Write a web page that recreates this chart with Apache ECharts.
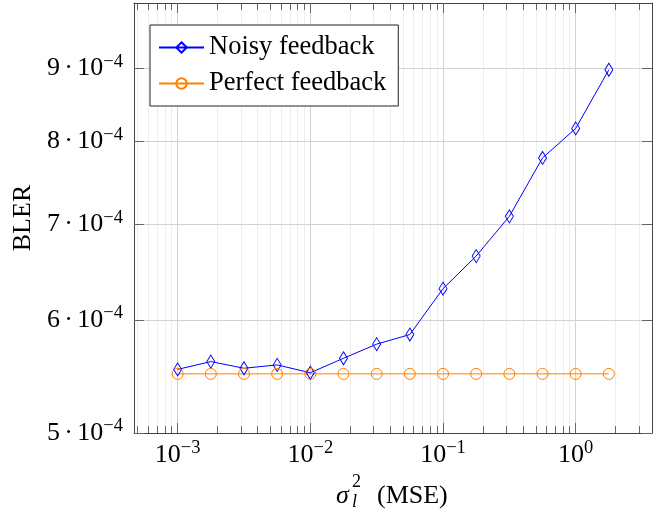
<!DOCTYPE html>
<html>
<head>
<meta charset="utf-8">
<script src="https://cdn.jsdelivr.net/npm/echarts@6/dist/echarts.min.js"></script>
<style>html,body{margin:0;padding:0;background:#fff}#c{width:662px;height:514px}</style>
</head>
<body>
<div id="c"></div>
<script>
// ---- data ----
var xValues = [1e-3, 1.778e-3, 3.162e-3, 5.623e-3, 1e-2, 1.778e-2, 3.162e-2, 5.623e-2, 0.1, 0.1778, 0.3162, 0.5623, 1, 1.778];
var noisy   = [5.54e-4, 5.61e-4, 5.55e-4, 5.58e-4, 5.51e-4, 5.64e-4, 5.77e-4, 5.86e-4, 6.31e-4, 6.65e-4, 7.09e-4, 7.79e-4, 8.17e-4, 8.98e-4];
var perfect = [5.50e-4, 5.50e-4, 5.50e-4, 5.50e-4, 5.50e-4, 5.50e-4, 5.50e-4, 5.50e-4, 5.50e-4, 5.50e-4, 5.50e-4, 5.50e-4, 5.50e-4, 5.50e-4];
var seriesNames = ['Noisy feedback', 'Perfect feedback'];
var xTickValues = [1e-3, 1e-2, 1e-1, 1];
var xTickExponents = ['\u22123', '\u22122', '\u22121', '0'];
var yTickValues = [5e-4, 6e-4, 7e-4, 8e-4, 9e-4];
var yTickMantissas = ['5', '6', '7', '8', '9'];
var yTickExponent = '\u22124';

var xMin = Math.pow(10, -3.329), xMax = Math.pow(10, 0.575);
var yMin = 5e-4, yMax = 1e-3;

var minorX = [];
for (var d = -4; d <= 0; d++) for (var k = 2; k <= 9; k++) {
  var v = k * Math.pow(10, d);
  if (v > xMin && v < xMax) minorX.push(v);
}

var FONT = '"Liberation Serif", "Times New Roman", serif';
var rich = {
  b: { fontSize: 26, fontFamily: FONT, color: '#000', lineHeight: 32 },
  sup: { fontSize: 18.5, fontFamily: FONT, color: '#000', lineHeight: 14, verticalAlign: 'top' }
};
function idxOf(arr, v) {
  var best = 0, bd = Infinity;
  for (var i = 0; i < arr.length; i++) {
    var dd = Math.abs(Math.log(arr[i]) - Math.log(v));
    if (dd < bd) { bd = dd; best = i; }
  }
  return best;
}

function pairs(xs, ys) { return xs.map(function (x, i) { return [x, ys[i]]; }); }

var AX = '#444', TICK = '#666', MAJ = '#d2d2d2', MIN = '#ededed';

var chart = echarts.init(document.getElementById('c'), null, { renderer: 'canvas' });
var gridRect = { left: 134, right: 10, top: 3, bottom: 81 };

var option = {
  animation: false,
  backgroundColor: '#fff',
  grid: [
    Object.assign({ containLabel: false }, gridRect),
    Object.assign({ containLabel: false }, gridRect)
  ],
  xAxis: [
    { // major bottom
      type: 'log', gridIndex: 0, position: 'bottom', min: xMin, max: xMax, z: 3,
      axisLine: { show: true, lineStyle: { color: AX, width: 1 } },
      axisTick: { show: true, inside: true, length: 10, customValues: xTickValues, lineStyle: { color: TICK } },
      axisLabel: {
        show: true, margin: 6, customValues: xTickValues, rich: rich,
        formatter: function (v) { return '{b|10}{sup|' + xTickExponents[idxOf(xTickValues, v)] + '}'; }
      },
      splitLine: { show: true, lineStyle: { color: MAJ, width: 1 } },
      minorTick: { show: false }, minorSplitLine: { show: false }
    },
    { // major top
      type: 'log', gridIndex: 0, position: 'top', min: xMin, max: xMax, z: 3,
      axisLine: { show: true, lineStyle: { color: AX, width: 1 } },
      axisTick: { show: true, inside: true, length: 10, customValues: xTickValues, lineStyle: { color: TICK } },
      axisLabel: { show: false },
      splitLine: { show: false }
    },
    { // minor bottom
      type: 'log', gridIndex: 1, position: 'bottom', min: xMin, max: xMax, z: 1,
      axisLine: { show: false },
      axisTick: { show: true, inside: true, length: 7, customValues: minorX, lineStyle: { color: TICK } },
      axisLabel: { show: false },
      splitLine: { show: true, lineStyle: { color: MIN, width: 1 } }
    },
    { // minor top
      type: 'log', gridIndex: 1, position: 'top', min: xMin, max: xMax, z: 1,
      axisLine: { show: false },
      axisTick: { show: true, inside: true, length: 7, customValues: minorX, lineStyle: { color: TICK } },
      axisLabel: { show: false },
      splitLine: { show: false }
    }
  ],
  yAxis: [
    {
      type: 'log', gridIndex: 0, position: 'left', min: yMin, max: yMax, z: 3,
      name: 'BLER', nameLocation: 'middle', nameGap: 98, nameRotate: 90,
      nameTextStyle: { fontSize: 26, fontFamily: FONT, color: '#000' },
      axisLine: { show: true, lineStyle: { color: AX, width: 1 } },
      axisTick: { show: true, inside: true, length: 10, customValues: yTickValues, lineStyle: { color: TICK } },
      axisLabel: {
        show: true, margin: 11, customValues: yTickValues, rich: rich,
        formatter: function (v) { return '{b|' + yTickMantissas[idxOf(yTickValues, v)] + '\u2006\u00b7\u200610}{sup|' + yTickExponent + '}'; }
      },
      splitLine: { show: true, lineStyle: { color: MAJ, width: 1 } }
    },
    {
      type: 'log', gridIndex: 0, position: 'right', min: yMin, max: yMax, z: 3,
      axisLine: { show: true, lineStyle: { color: AX, width: 1 } },
      axisTick: { show: true, inside: true, length: 10, customValues: yTickValues, lineStyle: { color: TICK } },
      axisLabel: { show: false },
      splitLine: { show: false }
    },
    {
      type: 'log', gridIndex: 1, min: yMin, max: yMax, show: false
    }
  ],
  legend: {
    orient: 'vertical', left: 150, top: 25,
    padding: [9, 12, 9, 8], itemGap: 9, itemWidth: 45, itemHeight: 13,
    backgroundColor: '#fff', borderColor: '#222', borderWidth: 1, borderRadius: 0,
    textStyle: { fontSize: 26.5, fontFamily: FONT, color: '#000', lineHeight: 24 },
    data: seriesNames
  },
  series: [
    {
      name: seriesNames[0], type: 'line', xAxisIndex: 0, yAxisIndex: 0, z: 5,
      data: pairs(xValues, noisy),
      symbol: 'diamond', symbolSize: [8, 13],
      lineStyle: { color: '#0000ff', width: 1 },
      itemStyle: { color: 'rgba(0,0,0,0)', borderColor: '#0000ff', borderWidth: 1 }
    },
    {
      name: seriesNames[1], type: 'line', xAxisIndex: 0, yAxisIndex: 0, z: 5,
      data: pairs(xValues, perfect),
      symbol: 'circle', symbolSize: 11,
      lineStyle: { color: '#ff8000', width: 1 },
      itemStyle: { color: 'rgba(0,0,0,0)', borderColor: '#ff8000', borderWidth: 1 }
    }
  ],
  graphic: [
    { type: 'text', left: 336, top: 483, style: { text: '\u03c3', font: 'italic 26px ' + FONT, fill: '#000' } },
    { type: 'text', left: 352, top: 473, style: { text: '2', font: '18px ' + FONT, fill: '#000' } },
    { type: 'text', left: 352, top: 493, style: { text: 'l', font: 'italic 18px ' + FONT, fill: '#000' } },
    { type: 'text', left: 377, top: 483, style: { text: '(MSE)', font: '26px ' + FONT, fill: '#000' } }
  ]
};
chart.setOption(option);
</script>
</body>
</html>
